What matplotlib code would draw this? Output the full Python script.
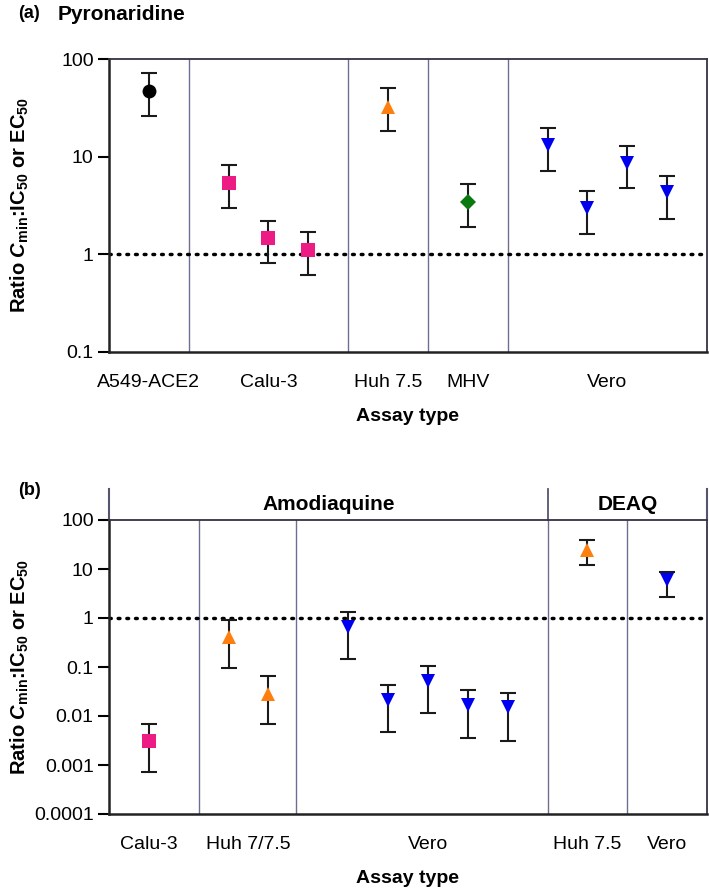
import numpy as np
import matplotlib
matplotlib.use("Agg")
import matplotlib.pyplot as plt
import matplotlib.transforms as mtransforms
from matplotlib.ticker import FixedLocator, NullLocator

plt.rcParams['font.family'] = ['Liberation Sans', 'DejaVu Sans']
plt.rcParams['mathtext.fontset'] = 'custom'
plt.rcParams['mathtext.rm'] = 'Liberation Sans'
plt.rcParams['mathtext.it'] = 'Liberation Sans:italic'
plt.rcParams['mathtext.bf'] = 'Liberation Sans:bold'
plt.rcParams['mathtext.bfit'] = 'Liberation Sans:bold:italic'

# ---- Panel (a): Pyronaridine ----
a_x = [1, 3, 4, 5, 7, 9, 11, 12, 13, 14]
a_val = [47, 5.4, 1.46, 1.1, 32, 3.4, 13.3, 3.0, 8.7, 4.3]
a_lo = [26, 3.0, 0.81, 0.61, 18.4, 1.9, 7.2, 1.6, 4.8, 2.3]
a_hi = [72, 8.3, 2.2, 1.68, 50, 5.2, 19.8, 4.4, 12.9, 6.4]
a_group = ['A549-ACE2', 'Calu-3', 'Calu-3', 'Calu-3', 'Huh 7.5', 'MHV',
           'Vero', 'Vero', 'Vero', 'Vero']
a_labels = ['A549-ACE2', 'Calu-3', 'Huh 7.5', 'MHV', 'Vero']
a_label_pos = [1, 4, 7, 9, 12.5]
a_seps = [2, 6, 8, 10]

# ---- Panel (b): Amodiaquine / DEAQ ----
b_x = [1, 3, 4, 6, 7, 8, 9, 10, 12, 14]
b_val = [0.0031, 0.41, 0.028, 0.65, 0.021, 0.052, 0.017, 0.015, 24.5, 6.0]
b_lo = [0.00072, 0.095, 0.0069, 0.145, 0.0047, 0.0115, 0.0035, 0.0031, 12, 2.7]
b_hi = [0.0069, 0.92, 0.066, 1.3, 0.043, 0.105, 0.034, 0.030, 39, 8.7]
b_group = ['Calu-3', 'Huh 7.5', 'Huh 7.5', 'Vero', 'Vero', 'Vero', 'Vero',
           'Vero', 'Huh 7.5', 'Vero']
b_labels = ['Calu-3', 'Huh 7/7.5', 'Vero', 'Huh 7.5', 'Vero']
b_label_pos = [1, 3.5, 8, 12, 14]
b_seps = [2.25, 4.7, 11, 13]
b_drugs = ['Amodiaquine', 'DEAQ']
b_drug_bounds = [(0, 11), (11, 15)]

styles = {
    'A549-ACE2': dict(marker='o', color='black'),
    'Calu-3': dict(marker='s', color='#EC1C84'),
    'Huh 7.5': dict(marker='^', color='#FF7F0E'),
    'MHV': dict(marker='D', color='#0A7A10'),
    'Vero': dict(marker='v', color='#0000F0'),
}

sep_color = '#6E6E92'
ylab = r'Ratio $\mathbfit{C}_{\mathbf{min}}$:IC$_{\mathbf{50}}$ or EC$_{\mathbf{50}}$'

fig = plt.figure(figsize=(7.09, 8.88), dpi=100)
ax_a = fig.add_axes([109/709, 1 - 352/888, 598/709, 293/888])
ax_b = fig.add_axes([109/709, 1 - 814/888, 598/709, 294/888])


def draw_panel(ax, xs, vals, los, his, groups, seps, labels, label_pos, ylim, yticks, yticklabels):
    for x, v, lo, hi, g in zip(xs, vals, los, his, groups):
        st = styles[g]
        ms = 8 if st['marker'] == 'D' else 10
        ax.errorbar([x], [v], yerr=[[v - lo], [hi - v]], fmt='none',
                    ecolor='#1a1a1a', elinewidth=1.5, capsize=6, capthick=1.5, zorder=3)
        ax.plot([x], [v], linestyle='none', marker=st['marker'], color=st['color'],
                markersize=ms, markeredgewidth=0, zorder=4)
    for s in seps:
        ax.axvline(s, color=sep_color, lw=1, zorder=1)
    ax.axhline(1, color='black', lw=2.5, linestyle=(0, (0.5, 2.0)), dash_capstyle='round', zorder=2)
    ax.set_yscale('log')
    ax.set_ylim(*ylim)
    ax.set_xlim(0, 15)
    ax.yaxis.set_major_locator(FixedLocator(yticks))
    ax.yaxis.set_minor_locator(NullLocator())
    ax.set_yticklabels(yticklabels)
    ax.set_xticks(label_pos)
    ax.set_xticklabels(labels)
    ax.tick_params(axis='x', length=0, pad=16, labelsize=14)
    ax.tick_params(axis='y', length=8, width=1.5, pad=3, labelsize=14)
    for sp in ['left', 'bottom']:
        ax.spines[sp].set_linewidth(1.8)
        ax.spines[sp].set_color('#222222')
    for sp in ['top', 'right']:
        ax.spines[sp].set_linewidth(1.3)
        ax.spines[sp].set_color('#333344')
    ax.set_xlabel('Assay type', fontsize=14, fontweight='bold', labelpad=12)


draw_panel(ax_a, a_x, a_val, a_lo, a_hi, a_group, a_seps, a_labels, a_label_pos,
           (0.1, 100), [0.1, 1, 10, 100], ['0.1', '1', '10', '100'])
draw_panel(ax_b, b_x, b_val, b_lo, b_hi, b_group, b_seps, b_labels, b_label_pos,
           (0.0001, 100), [0.0001, 0.001, 0.01, 0.1, 1, 10, 100],
           ['0.0001', '0.001', '0.01', '0.1', '1', '10', '100'])

# y-axis labels, centred on each panel
fig.text(20/709, 1 - 205/888, ylab, rotation=90, ha='center', va='center',
         fontsize=14.5, fontweight='bold')
fig.text(20/709, 1 - 667/888, ylab, rotation=90, ha='center', va='center',
         fontsize=14.5, fontweight='bold')

# header band above panel (b)
trans = mtransforms.blended_transform_factory(ax_b.transData, ax_b.transAxes)
band_top = 1 + 31/294
for xline in [0, 11, 15]:
    ax_b.plot([xline, xline], [1, band_top], transform=trans, color='#555570',
              lw=1.5 if xline != 11 else 1.3, clip_on=False)
for name, (x0, x1) in zip(b_drugs, b_drug_bounds):
    ax_b.text((x0 + x1) / 2, 1 + 16/294, name, transform=trans, ha='center', va='center',
              fontsize=15, fontweight='bold')

fig.text(18/709, 1 - 14/888, '(a)', fontsize=13, fontweight='bold', va='center')
fig.text(58/709, 1 - 14/888, 'Pyronaridine', fontsize=15, fontweight='bold', va='center')
fig.text(18/709, 1 - 490/888, '(b)', fontsize=13, fontweight='bold', va='center')

fig.savefig('out.png', dpi=100)
